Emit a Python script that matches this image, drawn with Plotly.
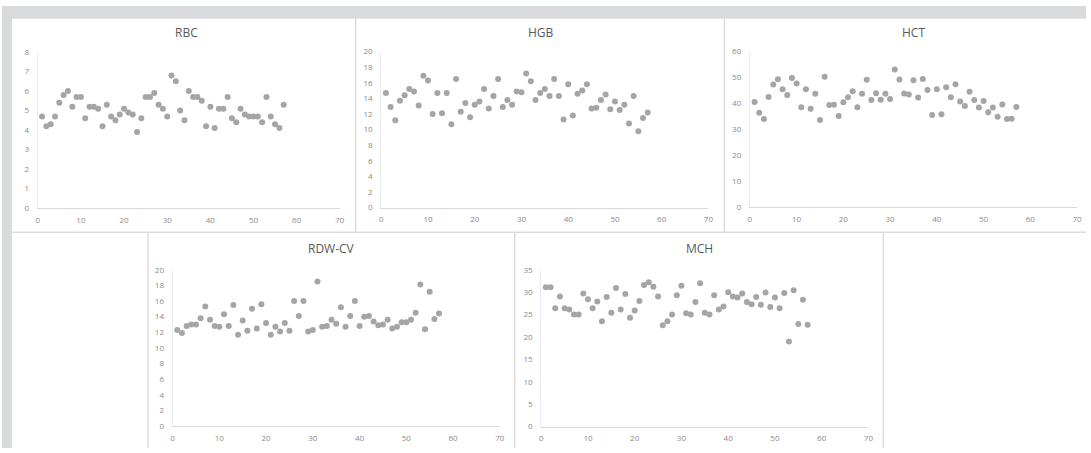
import plotly.graph_objects as go

W, H = 1091, 453

sample_no = list(range(1, 58))

rbc = [4.7, 4.2, 4.3, 4.7, 5.4, 5.8, 6.0, 5.2, 5.7, 5.7, 4.6, 5.2, 5.2, 5.1, 4.2, 5.3, 4.7, 4.5, 4.8, 5.1,
       4.9, 4.8, 3.9, 4.6, 5.7, 5.7, 5.9, 5.3, 5.1, 4.7, 6.8, 6.5, 5.0, 4.5, 6.0, 5.7, 5.7, 5.5, 4.2, 5.2,
       4.1, 5.1, 5.1, 5.7, 4.6, 4.4, 5.1, 4.8, 4.7, 4.7, 4.7, 4.4, 5.7, 4.7, 4.3, 4.1, 5.3]

hgb = [14.7, 12.9, 11.2, 13.7, 14.4, 15.2, 14.9, 13.1, 16.9, 16.3, 12.0, 14.7, 12.1, 14.7, 10.7, 16.5, 12.3, 13.4, 11.6, 13.2,
       13.6, 15.2, 12.7, 14.3, 16.5, 12.9, 13.8, 13.2, 14.9, 14.8, 17.2, 16.2, 13.8, 14.7, 15.2, 14.3, 16.5, 14.3, 11.3, 15.8,
       11.8, 14.6, 15.0, 15.8, 12.7, 12.8, 13.8, 14.5, 12.6, 13.6, 12.5, 13.2, 10.8, 14.3, 9.8, 11.5, 12.2]

hct = [40.5, 36.4, 34.0, 42.5, 47.3, 49.3, 45.5, 43.2, 49.8, 47.7, 38.5, 45.5, 37.9, 43.7, 33.6, 50.3, 39.4, 39.5, 35.1, 40.4,
       42.4, 44.7, 38.5, 43.7, 49.1, 41.3, 43.9, 41.4, 43.7, 41.7, 53.1, 49.2, 43.8, 43.4, 48.9, 42.3, 49.4, 45.2, 35.5, 45.5,
       35.8, 46.2, 42.4, 47.4, 40.7, 39.0, 44.5, 41.3, 38.4, 40.9, 36.6, 38.4, 34.8, 39.6, 34.0, 34.1, 38.6]

rdw_cv = [12.3, 11.9, 12.8, 13.0, 13.0, 13.8, 15.3, 13.6, 12.8, 12.7, 14.3, 12.8, 15.5, 11.7, 13.5, 12.2, 15.0, 12.5, 15.6, 13.2,
          11.7, 12.7, 12.1, 13.2, 12.2, 16.0, 14.1, 16.0, 12.1, 12.3, 18.5, 12.7, 12.8, 13.6, 13.1, 15.2, 12.7, 14.1, 16.0, 12.8,
          14.0, 14.1, 13.4, 12.9, 13.0, 13.6, 12.5, 12.7, 13.3, 13.3, 13.6, 14.5, 18.1, 12.4, 17.2, 13.7, 14.4]

mch = [31.1, 31.1, 26.4, 29.0, 26.4, 26.1, 25.0, 25.0, 29.7, 28.4, 26.4, 27.9, 23.5, 28.9, 25.4, 30.9, 26.1, 29.6, 24.3, 25.9,
       28.0, 31.6, 32.2, 31.2, 29.0, 22.6, 23.5, 25.0, 29.3, 31.4, 25.3, 25.0, 27.8, 32.0, 25.4, 25.0, 29.3, 26.1, 26.8, 30.0,
       29.0, 28.8, 29.7, 27.8, 27.3, 28.9, 27.2, 29.9, 26.7, 28.8, 26.4, 29.8, 19.0, 30.4, 22.9, 28.3, 22.7]

titles = ["RBC", "HGB", "HCT", "RDW-CV", "MCH"]
series = [rbc, hgb, hct, rdw_cv, mch]
y_max = [8, 20, 60, 20, 35]
y_dtick = [1, 2, 10, 2, 5]
x_ticks = [0, 10, 20, 30, 40, 50, 60, 70]

# plot-area pixel boxes: (x_left, x_right, y_top, y_bottom)
boxes = [
    (36, 340, 47.3, 207),
    (381.7, 711, 46.7, 206.7),
    (752.7, 1082, 46.7, 206),
    (171.7, 501, 270.3, 430.7),
    (542.7, 872, 270.3, 431),
]
title_pos = [(186, 27), (542, 27), (917, 27), (332, 249), (702, 249)]

MARK = "#a5a5a5"
AX = "#d9d9d9"
TICKC = "#8a8a8a"
FONT = "Open Sans, Liberation Sans, sans-serif"

fig = go.Figure()
layout = dict(
    width=W, height=H, margin=dict(l=0, r=0, t=0, b=0),
    paper_bgcolor="white", plot_bgcolor="white", showlegend=False,
    font=dict(family=FONT),
)
shapes = []
annotations = []

for i, (ttl, ys) in enumerate(zip(titles, series)):
    n = i + 1
    xa = "xaxis" if n == 1 else f"xaxis{n}"
    ya = "yaxis" if n == 1 else f"yaxis{n}"
    xr = "x" if n == 1 else f"x{n}"
    yr = "y" if n == 1 else f"y{n}"
    x0, x1, yt, yb = boxes[i]
    fig.add_trace(go.Scatter(
        x=sample_no, y=ys, mode="markers", xaxis=xr, yaxis=yr,
        marker=dict(color=MARK, size=6, line=dict(width=0)),
        hoverinfo="x+y",
    ))
    layout[xa] = dict(
        domain=[x0 / W, x1 / W], range=[0, 70], anchor=yr,
        tickvals=x_ticks, showgrid=False, zeroline=False,
        showline=True, linecolor=AX, linewidth=1,
        ticks="", ticklabelstandoff=4,
        tickfont=dict(size=8, color=TICKC, family=FONT), fixedrange=True,
    )
    layout[ya] = dict(
        domain=[1 - yb / H, 1 - yt / H], range=[0, y_max[i]], anchor=xr,
        dtick=y_dtick[i], tick0=0, showgrid=False, zeroline=False,
        showline=True, linecolor="#ececec", linewidth=1,
        ticks="", ticklabelstandoff=6,
        tickfont=dict(size=8, color=TICKC, family=FONT), fixedrange=True,
    )
    tx, ty = title_pos[i]
    annotations.append(dict(
        text=ttl, x=tx / W, y=1 - ty / H, xref="paper", yref="paper",
        xanchor="center", yanchor="middle", showarrow=False,
        font=dict(size=12, color="#595959", family=FONT),
    ))

GRAY = "#d9dadb"
# outer gray bands (top and left)
shapes.append(dict(type="rect", xref="paper", yref="paper", x0=0, x1=1, y0=1 - 13 / H, y1=1,
                   fillcolor=GRAY, line=dict(width=0), layer="below"))
shapes.append(dict(type="rect", xref="paper", yref="paper", x0=0, x1=10 / W, y0=0, y1=1,
                   fillcolor=GRAY, line=dict(width=0), layer="below"))
# panel separators
LINEC = "#dcdcdc"
seps = [
    (356, 13, 356, 232),
    (727, 13, 727, 232),
    (10, 232, 1091, 232),
    (147, 232, 147, 453),
    (516, 232, 516, 453),
    (887, 232, 887, 453),
]
for (ax0, ay0, ax1, ay1) in seps:
    shapes.append(dict(type="line", xref="paper", yref="paper",
                       x0=ax0 / W, x1=ax1 / W, y0=1 - ay0 / H, y1=1 - ay1 / H,
                       line=dict(color=LINEC, width=1.5)))

layout["shapes"] = shapes
layout["annotations"] = annotations
fig.update_layout(**layout)

fig.write_html(
    "out.html",
    config={"displayModeBar": False, "staticPlot": False},
    post_script="document.body.style.margin='0';document.body.style.overflow='hidden';",
)
